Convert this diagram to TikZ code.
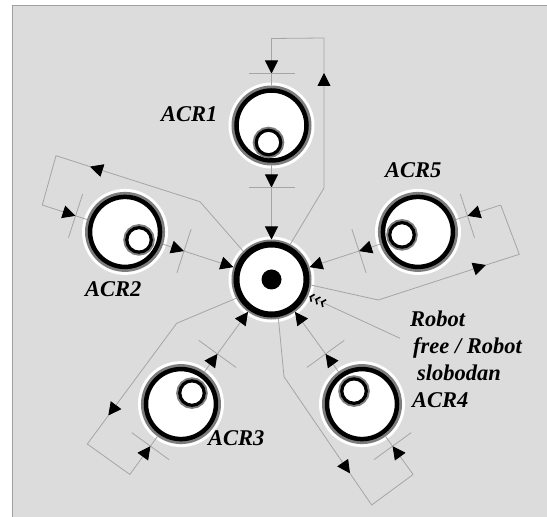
\documentclass[tikz,border=0pt]{standalone}
\usepackage{fontspec}
\setmainfont{Liberation Serif}
\usetikzlibrary{arrows.meta,calc}
\definecolor{panel}{RGB}{220,220,220}
\definecolor{frame}{RGB}{160,160,160}
\definecolor{wire}{RGB}{165,165,165}
\definecolor{halo}{RGB}{125,125,125}

\begin{document}
\begin{tikzpicture}[x=1pt, y=1pt,
  station/.style={circle, draw=black, fill=white, line width=4.5pt, minimum size=70pt,
    inner sep=0pt, outer sep=5pt,
    preaction={draw=white, line width=16pt},
    preaction={draw=halo, line width=10pt}},
  rotor/.style={circle, draw=black, fill=white, line width=3.2pt, minimum size=24.5pt,
    inner sep=0pt, preaction={draw=halo, line width=7pt}},
  hub/.style={circle, fill=black, minimum size=20pt, inner sep=0pt},
  tag/.style={font=\fontsize{22.5}{27}\selectfont\bfseries\itshape, inner sep=0pt, anchor=base west},
  line/.style={draw=wire, line width=0.8pt},
  flow/.style={line, -{Triangle[length=13pt, width=13pt, color=black]}},
  tick/.style={draw=wire, line width=0.8pt},
  barbs/.style={line, {Straight Barb[length=3pt, width=8pt, line width=1.6pt, sep=1.5pt, color=black]
    Straight Barb[length=3pt, width=8pt, line width=1.6pt, sep=1.5pt, color=black]
    Straight Barb[length=3pt, width=8pt, line width=1.6pt, sep=1.5pt, color=black]}-},
  ]

  \useasboundingbox (0,0) rectangle (547,517);
  \fill[panel] (12,0) rectangle (547,511);
  \draw[frame, line width=1pt] (12,0) -- (12,511) -- (547,511);

  \node[station, line width=6pt] (robot) at (271.5,237.5) {};
  \node[hub] (robot hub) at (robot) {};

  \node[station] (acr1) at ($(robot)+(90:154)$) {};
  \node[station] (acr2) at ($(robot)+(162:154)$) {};
  \node[station] (acr3) at ($(robot)+(234:154)$) {};
  \node[station] (acr4) at ($(robot)+(306:154)$) {};
  \node[station] (acr5) at ($(robot)+(18:154)$) {};

  \node[rotor] (acr1 rotor) at ($(acr1)+(-3,-17)$) {};
  \node[rotor] (acr2 rotor) at ($(acr2)+(14,-8)$) {};
  \node[rotor] (acr3 rotor) at ($(acr3)+(11,11)$) {};
  \node[rotor] (acr4 rotor) at ($(acr4)+(-8,13)$) {};
  \node[rotor] (acr5 rotor) at ($(acr5)+(-16,-3)$) {};

  \node[tag] (acr1 name) at (161,395) {ACR1};
  \node[tag] (acr2 name) at (85,220) {ACR2};
  \node[tag] (acr3 name) at (208,71) {ACR3};
  \node[tag] (acr4 name) at (412,109) {ACR4};
  \node[tag] (acr5 name) at (385,339) {ACR5};
  \node[tag, align=left] (free name) at (410,136)
    {Robot\\\hspace{3pt}free / Robot\\\hspace{7pt}slobodan};

  % tick points on the way out of and into each ACR
  \foreach \k in {1,...,5} {
    \coordinate (out\k) at ($(acr\k)!62pt!(robot)$);
    \coordinate (in\k) at ($(acr\k)!-52pt!(robot)$);
    \coordinate (bend\k) at ($(acr\k)!-87pt!(robot)$);
    \path[tick] ($(out\k)!23pt!90:(robot)$) -- ($(out\k)!23pt!-90:(robot)$);
    \path[tick] ($(in\k)!23pt!90:(acr\k)$) -- ($(in\k)!23pt!-90:(acr\k)$);
    \path[flow] (acr\k) -- (out\k);
    \path[flow] (out\k) -- (robot);
    \path[flow] (bend\k) -- (in\k);
    \path[line] (in\k) -- (acr\k);
  }

  \coordinate (w1a) at (324,329);   \coordinate (w1b) at (324,444);   \coordinate (w1c) at (324,479);
  \coordinate (w2a) at (200,315.3); \coordinate (w2b) at (90,350.4);  \coordinate (w2c) at (56,361.3);
  \coordinate (w3a) at (176.7,193.7); \coordinate (w3b) at (108.3,101.4); \coordinate (w3c) at (87.3,73);
  \coordinate (w4a) at (284,140.3); \coordinate (w4b) at (350,43.6);  \coordinate (w4c) at (371.7,12);
  \coordinate (w5a) at (378.3,217); \coordinate (w5b) at (486,252);   \coordinate (w5c) at (519.3,262.7);
  \coordinate (free end) at (400,178.7);

  % loops from the robot back out to each ACR
  \path[flow] (robot.62.5) -- (w1a) -- (w1b);
  \path[line] (w1b) -- (w1c) -- (bend1);
  \path[flow] (robot.135) -- (w2a) -- (w2b);
  \path[line] (w2b) -- (w2c) -- (bend2);
  \path[flow] (robot.208) -- (w3a) -- (w3b);
  \path[line] (w3b) -- (w3c) -- (bend3);
  \path[flow] (robot.280.5) -- (w4a) -- (w4b);
  \path[line] (w4b) -- (w4c) -- (bend4);
  \path[flow] (robot.-8.5) -- (w5a) -- (w5b);
  \path[line] (w5b) -- (w5c) -- (bend5);

  \path[barbs] (robot.-24) -- (free end);
\end{tikzpicture}
\end{document}
